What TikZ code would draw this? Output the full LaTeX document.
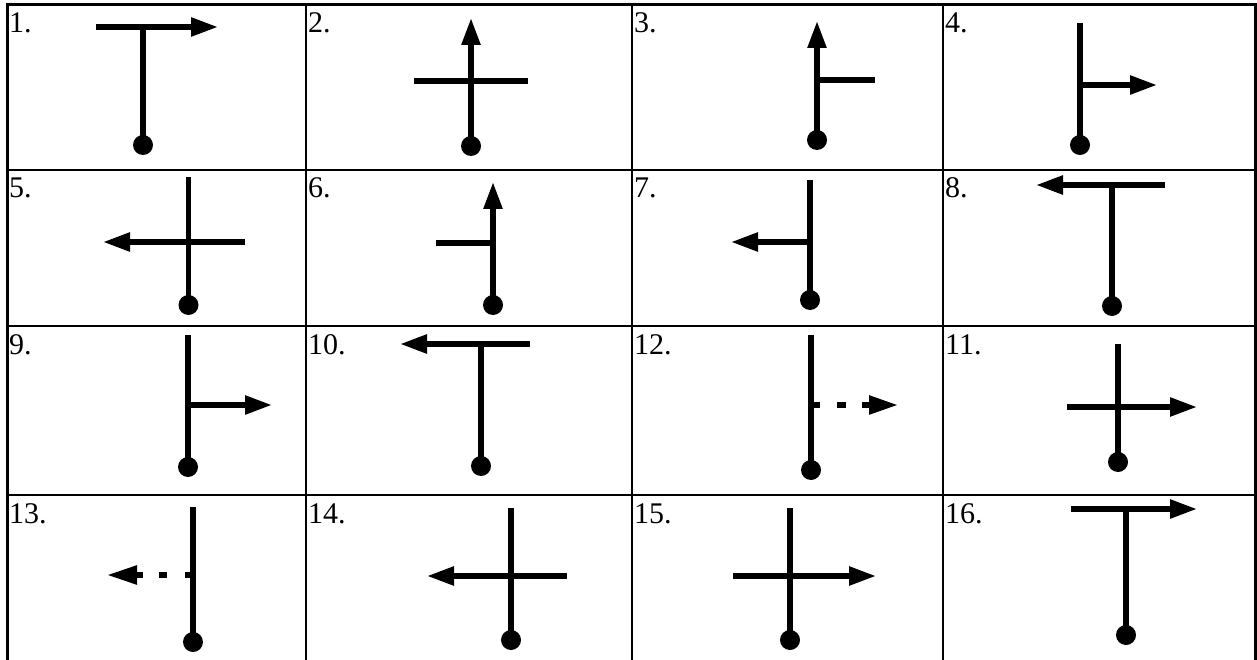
\documentclass[tikz,border=0pt]{standalone}
\usepackage{fontspec}
\setmainfont{Liberation Serif}
\usetikzlibrary{arrows.meta}
\tikzset{
  sym/.style={line width=5.5pt},
  arr/.style={sym, -{Triangle[length=27pt,width=18pt]}},
  dotc/.style={fill=black},
  lbl/.style={anchor=base west, inner sep=0pt, font=\fontsize{30}{30}\selectfont},
  gridline/.style={line width=2pt},
  frameline/.style={line width=3pt}
}
\begin{document}
\begin{tikzpicture}[x=1pt,y=-1pt]
\useasboundingbox (0,0) rectangle (1257,660);
% frame
\draw[frameline] (7,660) -- (7,5) -- (1255,5) -- (1255,660);
\foreach \x in {306,632,943} \draw[gridline] (\x,5) -- (\x,660);
\foreach \y in {170,326,495} \draw[gridline] (7,\y) -- (1255,\y);
% labels
\node[lbl] (l1) at (9,33) {1.};
\node[lbl] (l2) at (308,33) {2.};
\node[lbl] (l3) at (634,33) {3.};
\node[lbl] (l4) at (945,33) {4.};
\node[lbl] (l5) at (9,198) {5.};
\node[lbl] (l6) at (308,198) {6.};
\node[lbl] (l7) at (634,198) {7.};
\node[lbl] (l8) at (945,198) {8.};
\node[lbl] (l9) at (9,354) {9.};
\node[lbl] (l10) at (308,354) {10.};
\node[lbl] (l12) at (634,354) {12.};
\node[lbl] (l11) at (945,354) {11.};
\node[lbl] (l13) at (9,523) {13.};
\node[lbl] (l14) at (308,523) {14.};
\node[lbl] (l15) at (634,523) {15.};
\node[lbl] (l16) at (945,523) {16.};
% 1
\draw[arr] (96,27) -- (218,27);
\draw[sym] (143,27) -- (143,145);
\fill[dotc] (143,145) circle (10);
% 2
\draw[arr] (471,146) -- (471,18);
\draw[sym] (414,81) -- (528,81);
\fill[dotc] (471,146) circle (10);
% 3
\draw[arr] (817,140) -- (817,21);
\draw[sym] (817,80) -- (875,80);
\fill[dotc] (817,140) circle (10);
% 4
\draw[sym] (1080,23) -- (1080,145);
\draw[arr] (1080,85) -- (1157,85);
\fill[dotc] (1080,145) circle (10);
% 5
\draw[sym] (188.5,177) -- (188.5,305);
\draw[arr] (245,242) -- (103,242);
\fill[dotc] (188.5,305) circle (10);
% 6
\draw[arr] (493,305) -- (493,182);
\draw[sym] (436,243) -- (493,243);
\fill[dotc] (493,305) circle (10);
% 7
\draw[sym] (810,180) -- (810,300);
\draw[arr] (810,242) -- (731,242);
\fill[dotc] (810,300) circle (10);
% 8
\draw[arr] (1165,185) -- (1036,185);
\draw[sym] (1112,185) -- (1112,306);
\fill[dotc] (1112,306) circle (10);
% 9
\draw[sym] (188,335) -- (188,467);
\draw[arr] (188,405) -- (272,405);
\fill[dotc] (188,467) circle (10);
% 10
\draw[arr] (530,344) -- (400,344);
\draw[sym] (481,344) -- (481,466);
\fill[dotc] (481,466) circle (10);
% 12
\draw[sym] (811,335) -- (811,470);
\draw[sym] (811,405) -- (820,405);
\draw[sym] (837,405) -- (846,405);
\draw[sym, -{Triangle[length=29pt,width=18pt]}] (862,405) -- (898,405);
\fill[dotc] (811,470) circle (10);
% 11
\draw[sym] (1118,344) -- (1118,462);
\draw[arr] (1067,407) -- (1197,407);
\fill[dotc] (1118,462) circle (10);
% 13
\draw[sym] (193,507) -- (193,642);
\draw[sym] (193,575) -- (185,575);
\draw[sym] (167,575) -- (159,575);
\draw[sym, -{Triangle[length=30pt,width=18pt]}] (143,575) -- (107,575);
\fill[dotc] (193,642) circle (10);
% 14
\draw[sym] (511,508) -- (511,640);
\draw[arr] (567,576) -- (427,576);
\fill[dotc] (511,640) circle (10);
% 15
\draw[sym] (790,508) -- (790,640);
\draw[arr] (733,576) -- (876,576);
\fill[dotc] (790,640) circle (10);
% 16
\draw[arr] (1071,509) -- (1197,509);
\draw[sym] (1126,509) -- (1126,635);
\fill[dotc] (1126,635) circle (10);
\end{tikzpicture}
\end{document}
